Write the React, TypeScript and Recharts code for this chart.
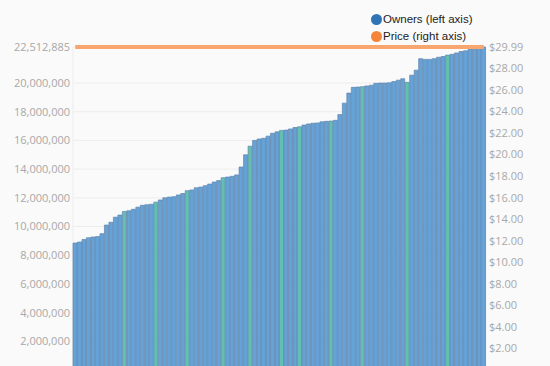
import React from 'react'
import {
  ComposedChart,
  Bar,
  Line,
  Cell,
  XAxis,
  YAxis,
  CartesianGrid,
} from 'recharts'

// owners per game, in millions left to right
const owners = [
  8.85, 8.92, 9.1, 9.22, 9.27, 9.3, 9.5, 10.1, 10.3, 10.65,
  10.8, 11.05, 11.1, 11.2, 11.35, 11.48, 11.52, 11.55, 11.7, 11.85,
  12.0, 12.05, 12.08, 12.2, 12.3, 12.5, 12.55, 12.7, 12.75, 12.85,
  12.96, 13.1, 13.2, 13.4, 13.45, 13.5, 13.6, 14.15, 15.0, 15.6,
  16.0, 16.1, 16.15, 16.3, 16.5, 16.6, 16.7, 16.72, 16.8, 16.9,
  16.95, 17.07, 17.15, 17.2, 17.22, 17.3, 17.33, 17.35, 17.4, 17.8,
  18.6, 19.3, 19.7, 19.72, 19.75, 19.8, 19.85, 19.98, 20.0, 20.0,
  20.02, 20.1, 20.2, 20.3, 20.05, 20.55, 20.9, 21.7, 21.65, 21.65,
  21.7, 21.8, 21.85, 21.95, 22.0, 22.1, 22.2, 22.25, 22.35, 22.4,
  22.45, 22.512885,
]

const prices = owners.map(() => 29.99)

// bars drawn in the teal colour
const highlighted = [11, 18, 25, 33, 39, 46, 50, 57, 64, 74, 83]

const ownerTicks = [
  2000000, 4000000, 6000000, 8000000, 10000000, 12000000, 14000000,
  16000000, 18000000, 20000000, 22512885,
]
const priceTicks = [2, 4, 6, 8, 10, 12, 14, 16, 18, 20, 22, 24, 26, 28, 29.99]

const seriesNames = ['Owners (left axis)', 'Price (right axis)']
const legendColors = ['#2f74b5', '#f5843a']

const data = owners.map((v, i) => ({
  name: `${i + 1}`,
  owners: Math.round(v * 1000000),
  price: prices[i],
}))

const axisTick = { fill: '#a8a8a8', fontSize: 11, fontFamily: 'Open Sans' }

const App = () => {
  return (
    <div
      style={{
        position: 'fixed',
        top: 0,
        left: 0,
        width: 550,
        height: 366,
        overflow: 'hidden',
        background: '#fafafa',
      }}
    >
      <ComposedChart
        width={550}
        height={400}
        data={data}
        barCategoryGap={0}
        margin={{ top: 47, right: 0, bottom: 0, left: 0 }}
      >
        <CartesianGrid yAxisId="left" stroke="#ededed" />
        <XAxis dataKey="name" interval={19} height={30} tick={false} axisLine={false} tickLine={false} />
        <YAxis
          yAxisId="left"
          width={73}
          domain={[0, 22512885]}
          ticks={ownerTicks}
          tickFormatter={(v) => v.toLocaleString('en-US')}
          axisLine={false}
          tickLine={false}
          tickSize={0}
          tickMargin={3}
          tick={axisTick}
        />
        <YAxis
          yAxisId="right"
          orientation="right"
          width={64}
          domain={[0, 29.99]}
          ticks={priceTicks}
          tickFormatter={(v) => `$${v.toFixed(2)}`}
          axisLine={false}
          tickLine={false}
          tickSize={0}
          tickMargin={3}
          tick={axisTick}
        />
        <Bar
          yAxisId="left"
          dataKey="owners"
          fill="#67a2d6"
          stroke="#5d84ad"
          strokeWidth={0.7}
          isAnimationActive={false}
        >
          {data.map((d, i) => (
            <Cell key={i} fill={highlighted.includes(i) ? '#63c0b0' : '#67a2d6'} />
          ))}
        </Bar>
        <Line
          yAxisId="right"
          dataKey="price"
          stroke="#f7a66f"
          strokeWidth={4}
          dot={false}
          isAnimationActive={false}
        />
      </ComposedChart>

      {/* legend */}
      <div
        style={{
          position: 'absolute',
          top: 11,
          left: 371,
          fontFamily: 'Liberation Sans',
          fontSize: 11.5,
          color: '#222',
          lineHeight: '17px',
        }}
      >
        {seriesNames.map((n, i) => (
          <div key={n} style={{ display: 'flex', alignItems: 'center' }}>
            <span
              style={{
                width: 11,
                height: 11,
                borderRadius: '50%',
                background: legendColors[i],
                marginRight: 1,
                display: 'inline-block',
              }}
            />
            {n}
          </div>
        ))}
      </div>
    </div>
  )
}

export default App
